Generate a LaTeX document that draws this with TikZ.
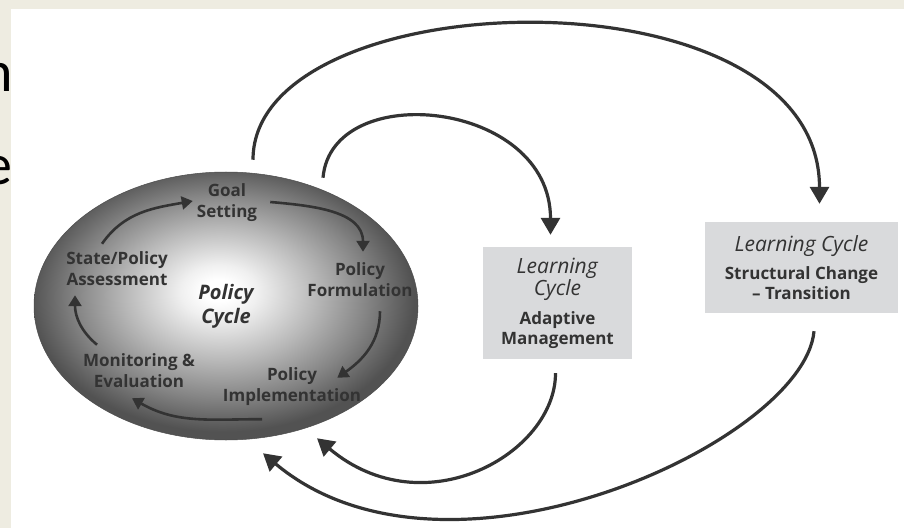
\documentclass[tikz,border=0pt]{standalone}
\usepackage{fontspec}
\setmainfont{Open Sans}
\newfontfamily\slidefont{Carlito}
\usetikzlibrary{arrows.meta,shapes.geometric,positioning}
\definecolor{slidebg}{HTML}{EEECE1}
\definecolor{ink}{HTML}{333333}
\definecolor{boxgray}{HTML}{D9DADC}
\pgfdeclareradialshading{policyglow}{\pgfpoint{-1bp}{3bp}}{color(0bp)=(white); color(2bp)=(white); color(5bp)=(black!6); color(12.5bp)=(black!28); color(19bp)=(black!48); color(25bp)=(black!68); color(50bp)=(black!68)}
\begin{document}
\begin{tikzpicture}[x=1pt, y=1pt,
  stage/.style={font=\fontsize{17}{21}\selectfont\bfseries, text=ink, align=center, inner sep=1pt},
  lcbox/.style={fill=boxgray, text=ink, align=center, inner sep=0pt, font=\fontsize{17}{20}\selectfont},
  cyc/.style={draw=ink, line width=2.6pt, -{Triangle[length=11pt,width=13pt]}},
  feedback/.style={draw=ink, line width=3.2pt, -{Triangle[length=17pt,width=19pt]}}]
\useasboundingbox (0,0) rectangle (904,528);
\fill[slidebg] (0,0) rectangle (904,528);
\node[font=\slidefont\fontsize{58}{60}\selectfont, anchor=base east, inner sep=0pt] (fragn) at (13,436) {n};
\node[font=\slidefont\fontsize{58}{60}\selectfont, anchor=base east, inner sep=0pt] (frage) at (13,343) {e};
\fill[white] (11,0) rectangle (904,519);
% policy cycle
\node[ellipse, minimum width=384pt, minimum height=268pt, shade, shading=policyglow, draw=black!70, line width=0.5pt, text=ink, align=center, font=\fontsize{20}{24}\selectfont\bfseries\itshape] (pc) at (226,222) {Policy\\Cycle};
\node[stage] (goal) at (227,325) {Goal\\Setting};
\node[stage] (assess) at (117,259) {State/Policy\\Assessment};
\node[stage] (formul) at (360,248) {Policy\\Formulation};
\node[stage] (implem) at (292,141) {Policy\\Implementation};
\node[stage] (monitor) at (139,157) {Monitoring \&\\Evaluation};
\draw[cyc] ([xshift=-15pt,yshift=7pt]assess.north) to[out=55,in=190] ([xshift=-3pt,yshift=2pt]goal.west);
\draw[cyc] ([xshift=12pt,yshift=1pt]goal.east) to[out=-5,in=90] ([xshift=3pt,yshift=10pt]formul.north);
\draw[cyc] ([xshift=20pt,yshift=-13pt]formul.south) to[out=-90,in=35] ([xshift=-25pt,yshift=-11pt]implem.north east);
\draw[cyc] ([xshift=-30pt,yshift=-12pt]implem.south) to[out=180,in=-30] ([xshift=-7pt,yshift=-9pt]monitor.south);
\draw[cyc] ([xshift=-42pt,yshift=8pt]monitor.north) to[out=140,in=-90] ([xshift=-42pt,yshift=-8pt]assess.south);
% learning cycles
\node[lcbox, minimum width=149pt, minimum height=112pt] (adapt) at (557.5,225) {\textit{\fontsize{21}{24}\selectfont Learning}\\\textit{\fontsize{21}{24}\selectfont Cycle}\\[9pt]\textbf{Adaptive}\\\textbf{Management}};
\node[lcbox, minimum width=193pt, minimum height=91pt] (struct) at (801.5,260.5) {\textit{\fontsize{21}{24}\selectfont Learning Cycle}\\[8pt]\textbf{Structural Change}\\\textbf{-- Transition}};
\draw[feedback] ([xshift=27pt,yshift=12pt]pc.north) to[out=90,in=90,out distance=180pt,in distance=240pt] ([xshift=18pt,yshift=18pt]struct.north);
\draw[feedback] ([xshift=97pt,yshift=-6pt]pc.north) to[out=85,in=90,out distance=100pt,in distance=135pt] ([xshift=-7pt,yshift=12pt]adapt.north);
\draw[feedback] ([xshift=-2pt,yshift=-14pt]adapt.south) to[out=-90,in=-40,out distance=80pt,in distance=140pt] ([xshift=91pt,yshift=2pt]pc.south);
\draw[feedback] ([xshift=12.5pt,yshift=-18pt]struct.south) to[out=-95,in=-40,out distance=110pt,in distance=240pt] ([xshift=37pt,yshift=-13pt]pc.south);
\end{tikzpicture}
\end{document}
